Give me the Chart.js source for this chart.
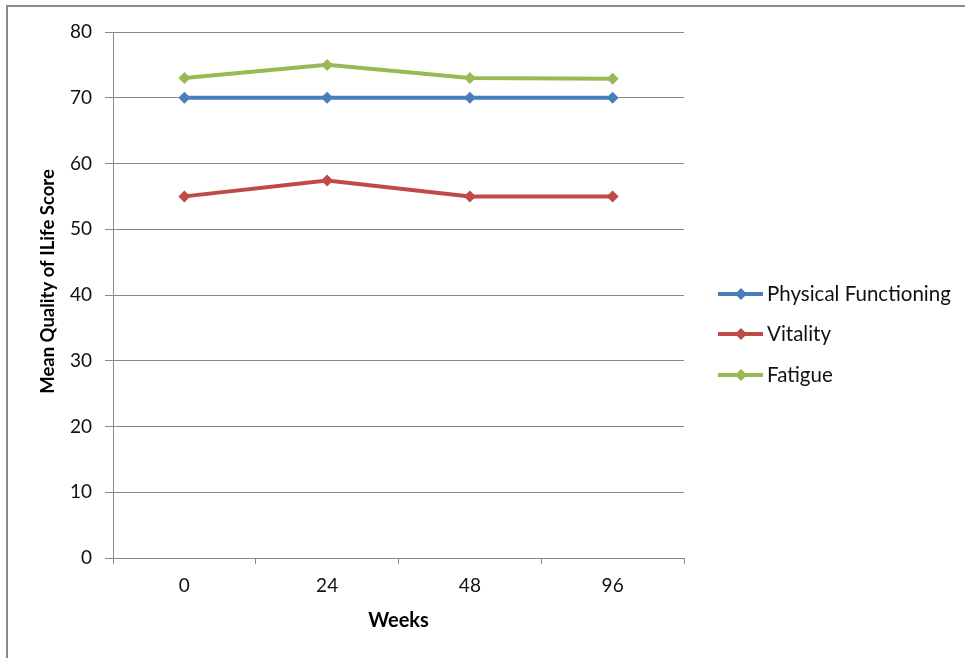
<!DOCTYPE html>
<html><head><meta charset="utf-8">
<script src="https://cdn.jsdelivr.net/npm/chart.js@4/dist/chart.umd.min.js"></script>
<style>
html,body{margin:0;padding:0;background:#fff;overflow:hidden;}
#frame{position:absolute;left:6px;top:5px;width:1200px;height:900px;border:2px solid #8a8a8a;box-sizing:border-box;}
#wrap{position:absolute;left:0;top:0;width:965px;height:658px;}
</style></head>
<body>
<div id="frame"></div>
<div id="wrap"><canvas id="c" width="965" height="658"></canvas></div>
<script>
const weeks = ["0", "24", "48", "96"];
const physicalFunctioning = [70, 70, 70, 70];
const vitality = [55, 57.4, 55, 55];
const fatigue = [73, 75, 73, 72.9];
const yTicks = [0, 10, 20, 30, 40, 50, 60, 70, 80];

const FONT = "Lato, 'Noto Sans', sans-serif";

const legendPlugin = {
  id: 'sideLegend',
  afterDraw(chart) {
    const ctx = chart.ctx;
    const ys = [294, 334, 375];
    ctx.save();
    chart.data.datasets.forEach((ds, i) => {
      const y = ys[i];
      ctx.strokeStyle = ds.borderColor;
      ctx.lineWidth = 4;
      ctx.beginPath(); ctx.moveTo(718, y); ctx.lineTo(763, y); ctx.stroke();
      ctx.fillStyle = ds.borderColor;
      ctx.beginPath();
      ctx.moveTo(741, y - 6); ctx.lineTo(747, y); ctx.lineTo(741, y + 6); ctx.lineTo(735, y);
      ctx.closePath(); ctx.fill();
      ctx.fillStyle = '#111';
      ctx.font = "20.5px " + FONT;
      ctx.textBaseline = 'middle';
      ctx.textAlign = 'left';
      ctx.fillText(ds.label, 767, y);
    });
    ctx.restore();
  }
};

const mk = (label, data, color) => ({
  label, data, borderColor: color, backgroundColor: color,
  borderWidth: 4, pointStyle: 'rectRot', pointRadius: 6, pointHoverRadius: 6,
  pointBorderWidth: 0, tension: 0, fill: false
});

new Chart(document.getElementById('c'), {
  type: 'line',
  data: {
    labels: weeks,
    datasets: [
      mk('Physical Functioning', physicalFunctioning, '#4a7ebb'),
      mk('Vitality', vitality, '#be4b48'),
      mk('Fatigue', fatigue, '#98b954')
    ]
  },
  options: {
    responsive: false,
    animation: false,
    devicePixelRatio: 1,
    layout: { padding: { left: 0, top: 32, right: 965 - 684, bottom: 0 } },
    plugins: { legend: { display: false }, tooltip: { enabled: false } },
    scales: {
      x: {
        offset: true,
        grid: { offset: true, drawOnChartArea: false, drawTicks: true, tickLength: 6, color: '#8a8a8a' },
        border: { color: '#8a8a8a', width: 1 },
        ticks: { color: '#111', font: { family: FONT, size: 19 }, padding: 10 },
        title: { display: true, text: 'Weeks', color: '#000', font: { family: FONT, size: 20, weight: 'bold' }, padding: { top: 0, bottom: 25 } },
        afterFit(s) { s.height = 100; }
      },
      y: {
        min: 0, max: 80,
        afterBuildTicks(s) { s.ticks = yTicks.map(v => ({ value: v })); },
        grid: { color: '#8a8a8a', tickLength: 8 },
        border: { color: '#8a8a8a', width: 1 },
        ticks: { color: '#111', font: { family: FONT, size: 19 }, padding: 13 },
        title: { display: true, text: '\u00a0\u00a0\u00a0\u00a0\u00a0\u00a0Mean Quality of ILife Score', color: '#000', font: { family: FONT, size: 18.5, weight: 'bold' }, padding: { top: 37, bottom: 0 } },
        afterFit(s) { s.width = 113; }
      }
    }
  },
  plugins: [legendPlugin]
});
</script>
</body></html>
